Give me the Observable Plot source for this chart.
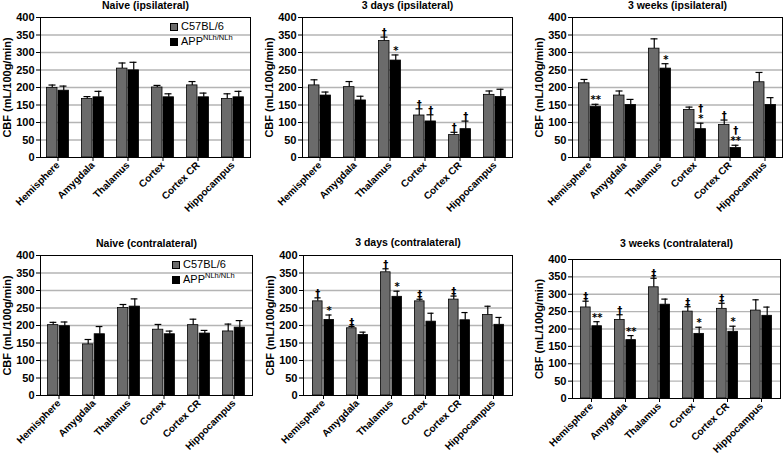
<!DOCTYPE html>
<html><head><meta charset="utf-8">
<script src="https://cdn.jsdelivr.net/npm/d3@7"></script>
<script src="https://cdn.jsdelivr.net/npm/@observablehq/plot@0.6"></script>
<style>
body{margin:0;background:#fff;}
#root{position:relative;width:784px;height:454px;overflow:hidden;font-family:"Liberation Sans",Arial,sans-serif;background:#fff;}
.panel{position:absolute;}
.legend{position:absolute;font-family:"Liberation Sans",Arial,sans-serif;font-size:11px;color:#000;line-height:15px;}
.legend .row{display:flex;align-items:center;white-space:nowrap;}
.legend .sw{width:8px;height:8px;border:1px solid #000;margin-right:3px;box-sizing:border-box;}
.legend sup{font-size:7.5px;vertical-align:super;line-height:0;color:#000;}
</style></head><body><div id="root"></div>
<script>
// ---- data ----
const regions = ["Hemisphere", "Amygdala", "Thalamus", "Cortex", "Cortex CR", "Hippocampus"];
const strains = ["C57BL/6", "APP NLh/NLh"];
const yTicks = [0, 50, 100, 150, 200, 250, 300, 350, 400];
const yLabel = "CBF (mL/100g/min)";
const titles = ["Naive (ipsilateral)", "3 days (ipsilateral)", "3 weeks (ipsilateral)",
                "Naive (contralateral)", "3 days (contralateral)", "3 weeks (contralateral)"];

// mean and SEM for C57BL/6 (wt) and APP NLh/NLh (app), per panel
const naiveIpsiWt      = [199, 167, 254, 200, 206, 167];
const naiveIpsiWtSem   = [8, 7, 16, 6, 11, 15];
const naiveIpsiApp     = [191, 172, 249, 172, 172, 172];
const naiveIpsiAppSem  = [13, 17, 23, 10, 12, 17];

const d3IpsiWt         = [206, 201, 333, 120, 64, 179];
const d3IpsiWtSem      = [16, 16, 11, 19, 8, 11];
const d3IpsiApp        = [177, 163, 277, 103, 81, 173];
const d3IpsiAppSem     = [10, 12, 16, 19, 23, 22];
const d3IpsiWtSig      = ["", "", "†", "†", "†", ""];
const d3IpsiAppSig     = ["", "", "*", "†", "†", ""];

const w3IpsiWt         = [212, 177, 311, 136, 93, 215];
const w3IpsiWtSem      = [11, 13, 28, 8, 14, 28];
const w3IpsiApp        = [145, 150, 254, 81, 27, 150];
const w3IpsiAppSem     = [7, 16, 14, 17, 8, 21];
const w3IpsiWtSig      = ["", "", "", "", "†", ""];
const w3IpsiAppSig     = ["**", "", "*", "†\n*", "†\n**", ""];

const naiveContraWt     = [201, 146, 250, 188, 201, 183];
const naiveContraWtSem  = [8, 14, 10, 15, 17, 21];
const naiveContraApp    = [198, 175, 254, 175, 177, 194];
const naiveContraAppSem = [12, 22, 22, 9, 9, 20];

const d3ContraWt        = [269, 192, 352, 269, 274, 230];
const d3ContraWtSem     = [10, 5, 10, 6, 10, 25];
const d3ContraApp       = [216, 173, 282, 211, 215, 202];
const d3ContraAppSem    = [14, 8, 16, 24, 22, 21];
const d3ContraWtSig     = ["†", "‡", "†", "‡", "‡", ""];
const d3ContraAppSig    = ["*", "", "*", "", "", ""];

const w3ContraWt        = [262, 226, 320, 250, 258, 253];
const w3ContraWtSem     = [18, 15, 26, 14, 16, 31];
const w3ContraApp       = [208, 168, 270, 186, 192, 238];
const w3ContraAppSem    = [13, 13, 16, 19, 16, 25];
const w3ContraWtSig     = ["‡", "†", "‡", "‡", "‡", ""];
const w3ContraAppSig    = ["**", "**", "", "*", "*", ""];

const none = ["", "", "", "", "", ""];
const panelsData = [
  [naiveIpsiWt, naiveIpsiWtSem, naiveIpsiApp, naiveIpsiAppSem, none, none],
  [d3IpsiWt, d3IpsiWtSem, d3IpsiApp, d3IpsiAppSem, d3IpsiWtSig, d3IpsiAppSig],
  [w3IpsiWt, w3IpsiWtSem, w3IpsiApp, w3IpsiAppSem, w3IpsiWtSig, w3IpsiAppSig],
  [naiveContraWt, naiveContraWtSem, naiveContraApp, naiveContraAppSem, none, none],
  [d3ContraWt, d3ContraWtSem, d3ContraApp, d3ContraAppSem, d3ContraWtSig, d3ContraAppSig],
  [w3ContraWt, w3ContraWtSem, w3ContraApp, w3ContraAppSem, w3ContraWtSig, w3ContraAppSig]
];

// ---- layout (plot frame boxes in page pixels) ----
const frames = [
  {x0: 40, y0: 17, x1: 250, y1: 157, top: 0, tdy: -11.5},
  {x0: 302, y0: 17, x1: 512, y1: 157, top: 0, tdy: -12},
  {x0: 572, y0: 17, x1: 782, y1: 157, top: 0, tdy: -11.5},
  {x0: 40, y0: 255, x1: 252, y1: 395, top: 227, tdy: -11.5},
  {x0: 303, y0: 255, x1: 512, y1: 395, top: 227, tdy: -13},
  {x0: 572, y0: 259, x1: 780, y1: 398, top: 227, tdy: -15.5}
];
const showLegend = [true, false, false, true, false, false];

const root = document.getElementById("root");
const GRAY = "#6b6b6b";
const FONT = "'Liberation Sans', Arial, sans-serif";

frames.forEach((f, p) => {
  const [wt, wtSem, app, appSem, wtSig, appSig] = panelsData[p];
  const rows = [];
  regions.forEach((r, i) => {
    rows.push({region: r, strain: strains[0], mean: wt[i], top: wt[i] + wtSem[i], sig: wtSig[i]});
    rows.push({region: r, strain: strains[1], mean: app[i], top: app[i] + appSem[i], sig: appSig[i]});
  });
  const wtRows = rows.filter(d => d.strain === strains[0]);
  const appRows = rows.filter(d => d.strain === strains[1]);

  const left = f.x0 - 40;
  const width = f.x1 - left + 2;
  const height = 227;
  const marginTop = f.y0 - f.top;
  const marginBottom = height - (f.y1 - f.top);
  const bw = (f.x1 - f.x0) / 6;
  const k = bw / 35;
  const inA = 6.5 * k, inB = 18 * k;     // bar insets
  const capA = 8.5 * k, capB = 19.5 * k; // error-cap insets
  const off = 5.75 * k;
  const sigStyle = {x: "region", y: "top", text: "sig", dy: -1, lineAnchor: "bottom", lineHeight: 1.0,
                    fontSize: 10, fontWeight: "bold", fill: "#000", fontFamily: "'DejaVu Sans', sans-serif"};

  const chart = Plot.plot({
    width, height,
    marginLeft: 40, marginRight: width - (f.x1 - left), marginTop, marginBottom,
    style: {fontFamily: FONT, color: "#000", background: "transparent", overflow: "visible"},
    x: {domain: regions, padding: 0},
    y: {domain: [0, 400]},
    marks: [
      Plot.gridY(yTicks.filter(t => t > 0 && t < 400), {stroke: "#b4b4b4", strokeOpacity: 1, strokeWidth: 1.3}),
      Plot.ruleX(wtRows, {x: "region", y1: "mean", y2: "top", dx: -off, stroke: "#000", strokeWidth: 1.2}),
      Plot.ruleX(appRows, {x: "region", y1: "mean", y2: "top", dx: off, stroke: "#000", strokeWidth: 1.2}),
      Plot.tickY(wtRows, {x: "region", y: "top", insetLeft: capA, insetRight: capB, stroke: "#000", strokeWidth: 1.2}),
      Plot.tickY(appRows, {x: "region", y: "top", insetLeft: capB, insetRight: capA, stroke: "#000", strokeWidth: 1.2}),
      Plot.barY(wtRows, {x: "region", y: "mean", fill: GRAY, stroke: "#000", strokeWidth: 0.8, insetLeft: inA, insetRight: inB}),
      Plot.barY(appRows, {x: "region", y: "mean", fill: "#000", stroke: "#000", strokeWidth: 0.8, insetLeft: inB, insetRight: inA}),
      Plot.text(wtRows.filter(d => d.sig), {...sigStyle, dx: -off}),
      Plot.text(appRows.filter(d => d.sig), {...sigStyle, dx: off}),
      Plot.frame({stroke: "#000", strokeWidth: 1}),
      Plot.axisY({ticks: yTicks, tickSize: 4, tickPadding: 2, label: null, fontSize: 11, fontWeight: "bold"}),
      Plot.axisX({tickSize: 4, tickPadding: 2, tickRotate: -45, label: null, fontSize: 10, fontWeight: "bold"}),
      Plot.text([titles[p]], {frameAnchor: "top", dy: f.tdy, lineAnchor: "middle", fontSize: 10.5, fontWeight: "bold", textAnchor: "middle"}),
      Plot.text([yLabel], {frameAnchor: "left", dx: -33, rotate: -90, fontSize: 11, fontWeight: "bold", textAnchor: "middle"})
    ]
  });
  const holder = document.createElement("div");
  holder.className = "panel";
  holder.style.left = left + "px";
  holder.style.top = f.top + "px";
  holder.appendChild(chart);
  root.appendChild(holder);

  if (showLegend[p]) {
    const lg = document.createElement("div");
    lg.className = "legend";
    lg.style.left = (f.x1 - 80) + "px";
    lg.style.top = (f.y0 + 2) + "px";
    lg.innerHTML =
      `<div class="row"><div class="sw" style="background:${GRAY}"></div><span>C57BL/6</span></div>` +
      `<div class="row"><div class="sw" style="background:#000"></div><span>APP<sup>NLh/NLh</sup></span></div>`;
    root.appendChild(lg);
  }
});
</script></body></html>
